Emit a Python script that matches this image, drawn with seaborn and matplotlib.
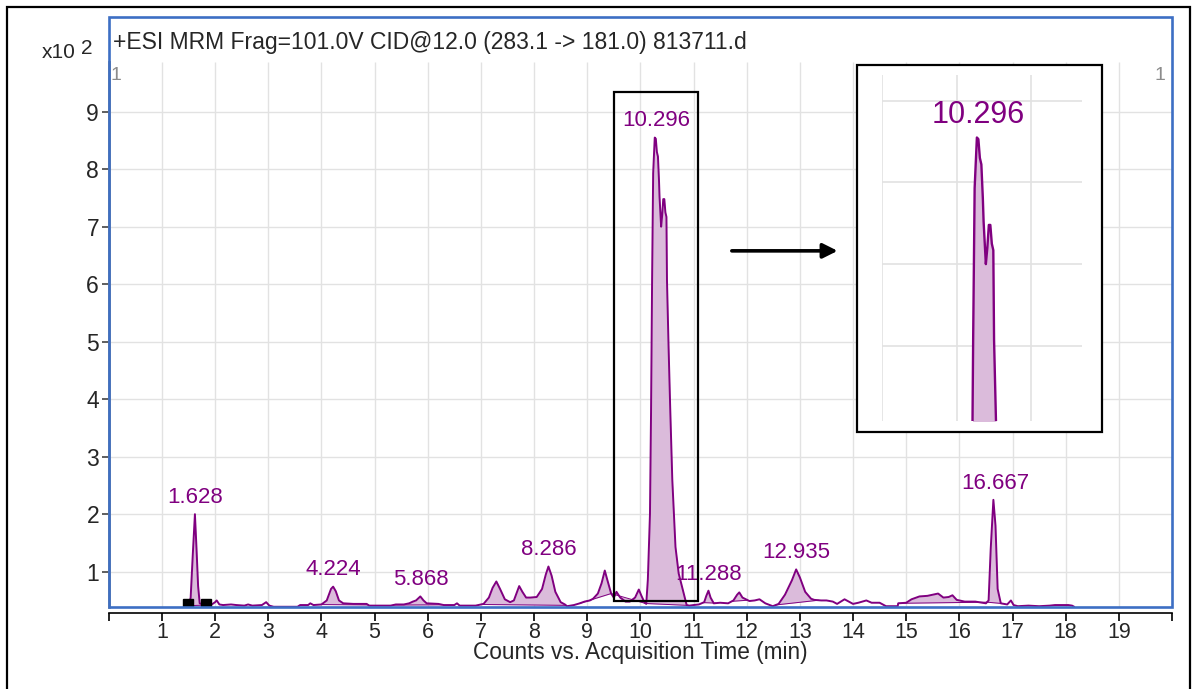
import numpy as np
import pandas as pd
import matplotlib
matplotlib.use("Agg")
import matplotlib.pyplot as plt
import seaborn as sns
from matplotlib.patches import Rectangle

# ---------------- data (time in min, intensity in x10^2 counts) ----------------
time_min = [
    1.44, 1.50, 1.54, 1.58, 1.62, 1.65, 1.68, 1.71, 1.80, 1.92, 2.00, 2.03, 2.08, 2.15,
    2.30, 2.40, 2.55, 2.62, 2.70, 2.88, 2.96, 3.02, 3.10, 3.55, 3.60, 3.75, 3.79, 3.85,
    4.00, 4.10, 4.18, 4.22, 4.27, 4.33, 4.41, 4.60, 4.85, 4.90, 5.30, 5.40, 5.55, 5.65,
    5.72, 5.78, 5.86, 5.92, 5.98, 6.20, 6.30, 6.50, 6.55, 6.60, 6.90, 7.05, 7.15, 7.22,
    7.29, 7.36, 7.45, 7.55, 7.62, 7.68, 7.72, 7.78, 7.85, 7.93, 8.05, 8.15, 8.22, 8.27,
    8.33, 8.40, 8.50, 8.58, 8.62, 8.75, 8.86, 8.95, 9.05, 9.11, 9.20, 9.27, 9.33, 9.38,
    9.45, 9.50, 9.55, 9.62, 9.72, 9.80, 9.90, 9.97, 10.02, 10.08, 10.11, 10.14, 10.18,
    10.20, 10.22, 10.24, 10.27, 10.29, 10.31, 10.33, 10.35, 10.36, 10.39, 10.41, 10.43,
    10.45, 10.47, 10.49, 10.50, 10.53, 10.56, 10.60, 10.66, 10.72, 10.80, 10.87, 10.92,
    11.00, 11.10, 11.20, 11.24, 11.28, 11.32, 11.38, 11.50, 11.65, 11.75, 11.82, 11.86,
    11.92, 12.05, 12.15, 12.24, 12.35, 12.49, 12.60, 12.72, 12.85, 12.93, 13.00, 13.10,
    13.21, 13.27, 13.40, 13.50, 13.62, 13.70, 13.84, 13.92, 14.00, 14.10, 14.25, 14.35,
    14.50, 14.62, 14.84, 14.85, 15.00, 15.10, 15.25, 15.40, 15.50, 15.60, 15.70, 15.80,
    15.87, 15.95, 16.10, 16.30, 16.50, 16.55, 16.59, 16.64, 16.68, 16.72, 16.78, 16.90,
    16.97, 17.02, 17.10, 17.30, 17.50, 17.70, 17.80, 17.95, 18.05, 18.12, 18.16,
]
intensity = [
    0.40, 0.41, 0.55, 1.30, 2.00, 1.40, 0.75, 0.45, 0.42, 0.42, 0.47, 0.50, 0.43, 0.42,
    0.43, 0.42, 0.41, 0.43, 0.41, 0.42, 0.47, 0.41, 0.39, 0.39, 0.42, 0.42, 0.45, 0.42,
    0.43, 0.50, 0.70, 0.74, 0.66, 0.50, 0.45, 0.44, 0.44, 0.41, 0.41, 0.43, 0.43, 0.45,
    0.48, 0.50, 0.57, 0.50, 0.45, 0.44, 0.42, 0.42, 0.45, 0.41, 0.41, 0.44, 0.55, 0.72,
    0.83, 0.70, 0.52, 0.47, 0.50, 0.65, 0.75, 0.65, 0.55, 0.55, 0.56, 0.70, 0.95, 1.09,
    0.93, 0.65, 0.47, 0.43, 0.40, 0.42, 0.45, 0.48, 0.50, 0.53, 0.62, 0.80, 1.02, 0.85,
    0.62, 0.55, 0.65, 0.55, 0.48, 0.48, 0.55, 0.69, 0.58, 0.46, 0.44, 0.86, 2.00,
    3.75, 6.07, 7.93, 8.55, 8.53, 8.30, 8.22, 7.80, 7.52, 7.00, 7.20, 7.48,
    7.48, 7.25, 7.17, 6.07, 4.91, 3.87, 2.60, 1.43, 0.97, 0.68, 0.42, 0.41,
    0.42, 0.43, 0.47, 0.58, 0.67, 0.55, 0.45, 0.46, 0.45, 0.50, 0.60, 0.64,
    0.55, 0.49, 0.50, 0.52, 0.45, 0.40, 0.44, 0.60, 0.85, 1.04, 0.90, 0.65,
    0.53, 0.51, 0.50, 0.50, 0.48, 0.44, 0.52, 0.48, 0.44, 0.46, 0.50, 0.46,
    0.46, 0.40, 0.40, 0.45, 0.46, 0.52, 0.57, 0.58, 0.60, 0.62, 0.55, 0.56,
    0.59, 0.51, 0.48, 0.48, 0.45, 0.50, 1.40, 2.25, 1.80, 0.70, 0.45, 0.43,
    0.50, 0.42, 0.40, 0.41, 0.40, 0.41, 0.42, 0.42, 0.42, 0.41, 0.39,
]

# integrated peak windows (start, end) in min
integration_windows = [
    (1.49, 1.83), (3.98, 4.88), (5.35, 6.28), (7.00, 8.60), (8.86, 9.45),
    (9.45, 10.10), (10.10, 10.90), (11.18, 11.42), (11.72, 12.02),
    (12.55, 13.35), (14.85, 16.52), (16.52, 16.80),
]
# integration markers of the first peak
marker_times = [1.49, 1.83]
marker_level = [0.44, 0.44]

peak_labels = ["1.628", "4.224", "5.868", "8.286", "10.296", "11.288", "12.935", "16.667"]
peak_times = [1.628, 4.224, 5.868, 8.286, 10.296, 11.288, 12.935, 16.667]
peak_heights = [2.00, 0.74, 0.57, 1.09, 8.55, 0.67, 1.04, 2.25]

x_ticks = list(range(0, 21))
x_ticklabels = [""] + [str(i) for i in range(1, 20)] + [""]
y_ticks = list(range(1, 10))

title_text = "+ESI MRM Frag=101.0V CID@12.0 (283.1 -> 181.0) 813711.d"
x_label = "Counts vs. Acquisition Time (min)"

# ---------------- style ----------------
sns.set_style("white")
plt.rcParams["font.family"] = ["Liberation Sans", "DejaVu Sans"]

PURPLE = "#800080"
FILL = "#dbbbdb"
BLUE = "#3d6fc4"
GRID = "#e2e2e2"

W, H = 1193, 689
fig = plt.figure(figsize=(W / 100, H / 100), dpi=100)


def fx(px):
    return px / W


def fy(py):
    return 1 - py / H


df = pd.DataFrame({"t": time_min, "y": intensity})
t_arr = np.array(time_min)
y_arr = np.array(intensity)


def draw_trace(ax, lw):
    for a, b in integration_windows:
        m = (t_arr > a) & (t_arr < b)
        xs = np.concatenate([[a], t_arr[m], [b]])
        ys = np.interp(xs, t_arr, y_arr)
        base = np.interp(xs, [a, b], [ys[0], ys[-1]])
        ax.fill_between(xs, ys, base, color=FILL, lw=0, zorder=2)
        ax.plot([a, b], [ys[0], ys[-1]], color=PURPLE, lw=0.7, zorder=2.5)
    sns.lineplot(data=df, x="t", y="y", ax=ax, color=PURPLE, lw=lw,
                 estimator=None, sort=False, zorder=3)


# ---------------- main axes ----------------
ax = fig.add_axes([fx(108.8), fy(607), fx(1172) - fx(108.8), fy(17) - fy(607)])
ylo, yhi = 0.386, 10.647
ax.set_xlim(0, 20)
ax.set_ylim(ylo, yhi)

ax.vlines(range(1, 20), ylo, 9.86, color=GRID, lw=1, zorder=0)
ax.hlines(y_ticks, 0, 20, color=GRID, lw=1, zorder=0)

draw_trace(ax, 1.4)
ax.plot(marker_times, marker_level, ls="none", marker="s", ms=7, color="black", zorder=4)

for lbl, t, h in zip(peak_labels, peak_times, peak_heights):
    ax.annotate(lbl, xy=(t, h), xytext=(0, 12), textcoords="offset points",
                ha="center", va="center", color=PURPLE, fontsize=16, zorder=6)

# highlight box and arrow
ax.add_patch(Rectangle((9.5, 0.49), 1.575, 8.85, fill=False, ec="black", lw=1.6, zorder=6))
ax.annotate("", xy=(13.71, 6.58), xytext=(11.72, 6.58),
            arrowprops=dict(arrowstyle="-|>", color="black", lw=2.6,
                            mutation_scale=22, shrinkA=0, shrinkB=0), zorder=6)

# blue frame
ax.add_patch(Rectangle((0, 0), 1, 1, transform=ax.transAxes, fill=False, ec=BLUE,
                       lw=1.9, clip_on=False, zorder=7))

for s in ["top", "right"]:
    ax.spines[s].set_visible(False)
ax.spines["bottom"].set_position(("outward", 4))
ax.spines["bottom"].set_color("black")
ax.spines["bottom"].set_linewidth(1.2)
ax.spines["left"].set_bounds(ylo, 9.86)
ax.spines["left"].set_color("#8a8a8a")
ax.spines["left"].set_linewidth(2)

ax.set_xticks(x_ticks)
ax.set_xticklabels(x_ticklabels)
ax.set_yticks(y_ticks)
ax.set_yticklabels([str(v) for v in y_ticks])
ax.tick_params(axis="x", direction="out", length=6, width=1.2, color="black",
               pad=1, labelsize=15.5, bottom=True)
ax.tick_params(axis="y", direction="out", length=5, width=1.1, color="#333333",
               pad=2, labelsize=16.5, left=True)
ax.set_xlabel(x_label, fontsize=16.3)
ax.xaxis.set_label_coords(0.5, (607 - 641) / 590)
ax.set_ylabel("")

# texts in the chart
fig.text(fx(113), fy(49), title_text, fontsize=16.5, ha="left", va="baseline")
fig.text(fx(58.8), fy(53), "x10", fontsize=15, ha="center", va="center")
fig.text(fx(87), fy(48), "2", fontsize=15, ha="center", va="center")
fig.text(fx(116), fy(75), "1", fontsize=14, color="#8c8c8c", ha="center", va="center")
fig.text(fx(1160), fy(75), "1", fontsize=14, color="#8c8c8c", ha="center", va="center")

# outer frame
fig.add_artist(Rectangle((fx(7), fy(720)), fx(1190) - fx(7), fy(7) - fy(720),
                         transform=fig.transFigure, fill=False, ec="black", lw=1.6))

# ---------------- inset ----------------
fig.add_artist(Rectangle((fx(857), fy(432)), fx(1102) - fx(857), fy(65) - fy(432),
                         transform=fig.transFigure, fc="white", ec="black", lw=1.6, zorder=1))
iax = fig.add_axes([fx(882), fy(421), fx(1082) - fx(882), fy(75) - fy(421)])
iax.set_zorder(3)
iax.set_facecolor("none")
iax.set_xlim(9.0, 11.677)
iax.set_ylim(5.08, 9.315)
iax.set_xticks([9, 10, 11])
iax.set_yticks([6, 7, 8, 9])
iax.grid(True, color=GRID, lw=1.2)
iax.tick_params(length=0, labelbottom=False, labelleft=False)
for s in iax.spines.values():
    s.set_visible(False)
draw_trace(iax, 1.7)
iax.set_xlabel("")
iax.set_ylabel("")
iax.annotate(peak_labels[4], xy=(peak_times[4] - 0.01, peak_heights[4]), xytext=(0, 16),
             textcoords="offset points", ha="center", va="center", color=PURPLE,
             fontsize=22, annotation_clip=False)

fig.savefig("out.png", dpi=100)
